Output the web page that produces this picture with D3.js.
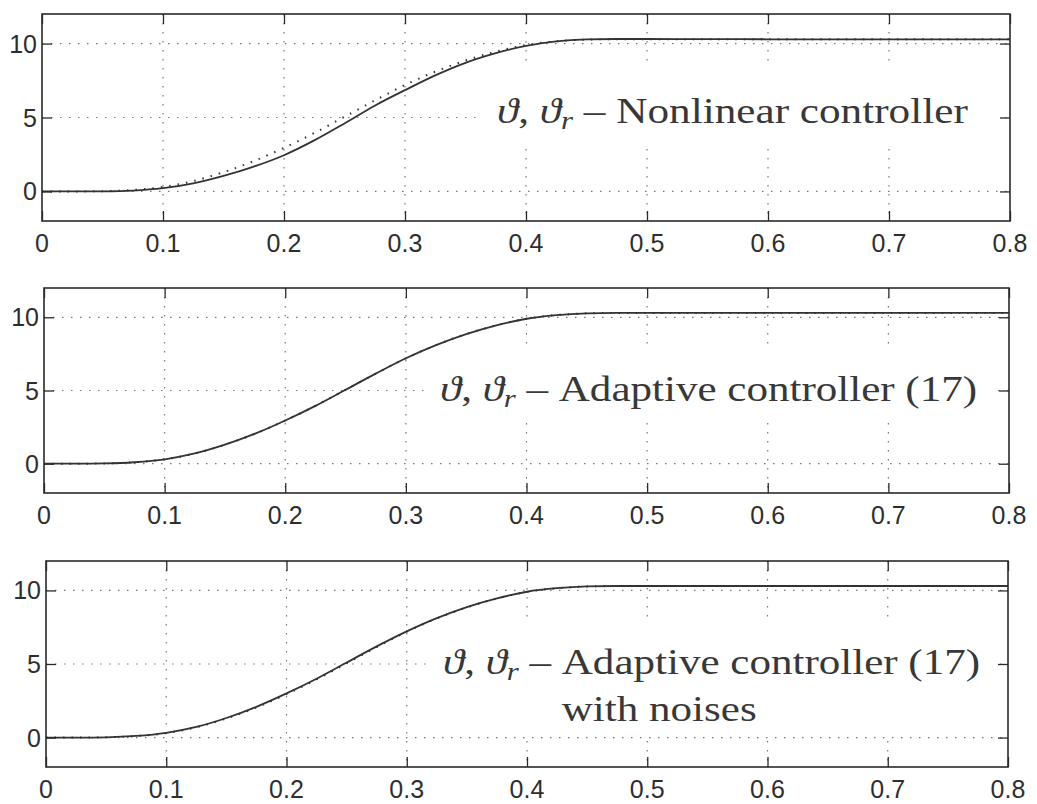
<!DOCTYPE html>
<html>
<head>
<meta charset="utf-8">
<script src="https://cdn.jsdelivr.net/npm/d3@7"></script>
<style>
  body { margin: 0; background: #fff; }
  .tick-label { font-family: "Liberation Sans", Arial, sans-serif; font-size: 25px; fill: #2e2e2e; }
  .note { font-family: "Liberation Serif", "DejaVu Serif", serif; font-size: 35px; fill: #383838; }
</style>
</head>
<body>
<svg width="1037" height="804"></svg>
<script>
// Data
var time = [0, 0.025, 0.05, 0.075, 0.1, 0.125, 0.15, 0.175, 0.2, 0.225, 0.25, 0.275, 0.3,
            0.325, 0.35, 0.375, 0.4, 0.425, 0.45, 0.475, 0.5, 0.55, 0.6, 0.65, 0.7, 0.75, 0.8];
var thetaRef = [0, 0, 0.02, 0.1, 0.3, 0.7, 1.3, 2.05, 2.95, 3.95, 5.05, 6.15, 7.2,
                8.1, 8.85, 9.45, 9.9, 10.15, 10.27, 10.3, 10.3, 10.3, 10.3, 10.3, 10.3, 10.3, 10.3];
var thetaNonlinear = [0, 0, 0.01, 0.06, 0.22, 0.55, 1.05, 1.68, 2.45, 3.45, 4.6, 5.8, 6.85,
                      7.85, 8.7, 9.35, 9.85, 10.15, 10.28, 10.31, 10.31, 10.3, 10.29, 10.28, 10.28, 10.28, 10.28];
var thetaAdaptive = [0, 0, 0.02, 0.1, 0.3, 0.7, 1.3, 2.05, 2.95, 3.95, 5.05, 6.15, 7.2,
                     8.1, 8.85, 9.45, 9.9, 10.15, 10.27, 10.3, 10.3, 10.3, 10.3, 10.3, 10.3, 10.3, 10.3];
var thetaAdaptiveNoise = [0, 0, 0.02, 0.11, 0.32, 0.72, 1.33, 2.09, 3.0, 4.0, 5.1, 6.2, 7.22,
                          8.12, 8.87, 9.46, 9.91, 10.15, 10.27, 10.3, 10.3, 10.3, 10.3, 10.3, 10.3, 10.3, 10.3];

var xTicks = [0, 0.1, 0.2, 0.3, 0.4, 0.5, 0.6, 0.7, 0.8];
var yTicks = [0, 5, 10];
var xDomain = [0, 0.8];
var yDomain = [-2, 12];

var noteTexts = ["Nonlinear controller", "Adaptive controller (17)", "Adaptive controller (17)"];
var noteSecondLine = [null, null, "with noises"];

// Panel layout
var panels = [
  { left: 42, right: 1010, top: 14,  bottom: 221, y: thetaNonlinear,
    box: [477, 66, 998, 145], tx: 497, ty: 123, tw: 471 },
  { left: 44, right: 1009, top: 288, bottom: 493, y: thetaAdaptive,
    box: [427, 347, 998, 422], tx: 440, ty: 401, tw: 535 },
  { left: 46, right: 1008, top: 561, bottom: 767, y: thetaAdaptiveNoise,
    box: [432, 624, 998, 735], tx: 443, ty: 674, tw: 535 }
];

var svg = d3.select("svg");
var ink = "#2a2a2a";

panels.forEach(function (p, i) {
  var x = d3.scaleLinear().domain(xDomain).range([p.left, p.right]);
  var y = d3.scaleLinear().domain(yDomain).range([p.bottom, p.top]);
  var g = svg.append("g");

  // dotted grid
  g.selectAll(".gx").data(xTicks.slice(1, -1)).enter().append("line")
    .attr("x1", function (d) { return x(d); }).attr("x2", function (d) { return x(d); })
    .attr("y1", p.top).attr("y2", p.bottom)
    .attr("stroke", "#777").attr("stroke-width", 1.2).attr("stroke-dasharray", "1.5,7.5");
  g.selectAll(".gy").data(yTicks).enter().append("line")
    .attr("y1", function (d) { return y(d); }).attr("y2", function (d) { return y(d); })
    .attr("x1", p.left).attr("x2", p.right)
    .attr("stroke", "#777").attr("stroke-width", 1.2).attr("stroke-dasharray", "1.5,7.5");

  // text background
  g.append("rect")
    .attr("x", p.box[0]).attr("y", p.box[1])
    .attr("width", p.box[2] - p.box[0]).attr("height", p.box[3] - p.box[1])
    .attr("fill", "#fff");

  // curves
  var line = d3.line()
    .x(function (d, k) { return x(time[k]); })
    .y(function (d) { return y(d); })
    .curve(d3.curveMonotoneX);
  g.append("path").datum(thetaRef).attr("d", line)
    .attr("fill", "none").attr("stroke", "#333").attr("stroke-width", 2)
    .attr("stroke-dasharray", "1.5,7");
  g.append("path").datum(p.y).attr("d", line)
    .attr("fill", "none").attr("stroke", "#333").attr("stroke-width", 1.8);

  // axes, ticks pointing inward on all four sides
  g.append("g").attr("transform", "translate(0," + p.bottom + ")")
    .call(d3.axisTop(x).tickValues(xTicks).tickSize(10).tickFormat(""));
  g.append("g").attr("transform", "translate(0," + p.top + ")")
    .call(d3.axisBottom(x).tickValues(xTicks).tickSize(10).tickFormat(""));
  g.append("g").attr("transform", "translate(" + p.left + ",0)")
    .call(d3.axisRight(y).tickValues(yTicks).tickSize(10).tickFormat(""));
  g.append("g").attr("transform", "translate(" + p.right + ",0)")
    .call(d3.axisLeft(y).tickValues(yTicks).tickSize(10).tickFormat(""));
  g.selectAll(".domain").remove();
  g.selectAll(".tick line").attr("stroke", ink).attr("stroke-width", 1.3);

  g.append("rect")
    .attr("x", p.left).attr("y", p.top)
    .attr("width", p.right - p.left).attr("height", p.bottom - p.top)
    .attr("fill", "none").attr("stroke", ink).attr("stroke-width", 1.6);

  // tick labels
  g.selectAll(".xl").data(xTicks).enter().append("text")
    .attr("class", "tick-label")
    .attr("x", function (d) { return x(d); })
    .attr("y", p.bottom + 31)
    .attr("text-anchor", "middle")
    .text(function (d) { return d === 0 ? "0" : d3.format(".1f")(d); });
  g.selectAll(".yl").data(yTicks).enter().append("text")
    .attr("class", "tick-label")
    .attr("x", p.left - 5)
    .attr("y", function (d) { return y(d); })
    .attr("dy", "0.36em")
    .attr("text-anchor", "end")
    .text(function (d) { return d; });

  // annotation
  var note = g.append("text").attr("class", "note").attr("x", 0).attr("y", 0);
  note.append("tspan").attr("font-style", "italic").text("ϑ");
  note.append("tspan").text(", ");
  note.append("tspan").attr("font-style", "italic").text("ϑ");
  note.append("tspan").attr("font-style", "italic").attr("font-size", "25px")
    .attr("dy", 6).text("r");
  note.append("tspan").attr("dy", -6).text(" – ");
  note.append("tspan").text(noteTexts[i]);
  var w = note.node().getComputedTextLength();
  var sx = p.tw / w;
  note.attr("transform", "translate(" + p.tx + "," + p.ty + ") scale(" + sx + ",1)");

  if (noteSecondLine[i]) {
    // second line starts under the word after the dash
    var off = 0;
    var nodes = note.selectAll("tspan").nodes();
    for (var k = 0; k < nodes.length - 1; k++) off += nodes[k].getComputedTextLength();
    g.append("text").attr("class", "note")
      .attr("transform", "translate(" + (p.tx + off * sx) + "," + (p.ty + 47) + ") scale(" + sx + ",1)")
      .text(noteSecondLine[i]);
  }
});
</script>
</body>
</html>
